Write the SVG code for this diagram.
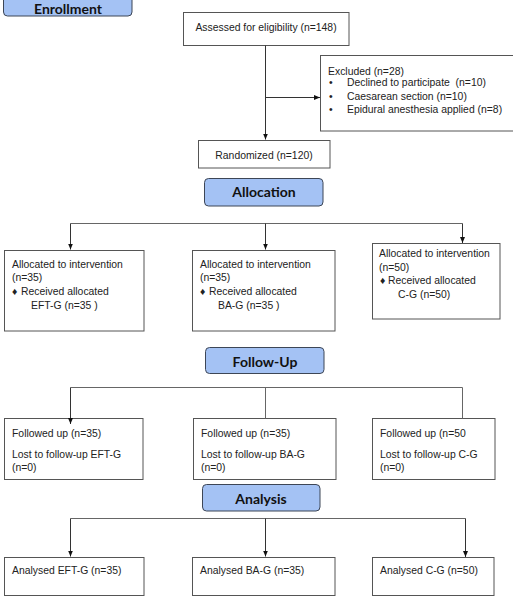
<svg xmlns="http://www.w3.org/2000/svg" width="513" height="604" viewBox="0 0 513 604">
<defs>
<marker id="arr" viewBox="0 0 6 5" refX="6" refY="2.5" markerWidth="6" markerHeight="5" markerUnits="userSpaceOnUse" orient="auto">
<path d="M0,0 L6,2.5 L0,5 Z" fill="#111"/>
</marker>
</defs>
<style>
.box{fill:#fff;stroke:#555;stroke-width:1}
.stage{fill:#a4c2f4;stroke:#3d4656;stroke-width:1}
.st{font-family:Lato,"Open Sans",sans-serif;font-weight:bold;font-size:14px;fill:#111;text-anchor:middle}
.t{font-family:"Liberation Sans",Arial,sans-serif;font-size:10.4px;fill:#222;white-space:pre}
.c{text-anchor:middle}
.ln{fill:none;stroke:#666;stroke-width:1}
.ar{fill:none;stroke:#333;stroke-width:1;marker-end:url(#arr)}
</style>
<rect width="513" height="604" fill="#fff"/>

<g id="enrollment">
<rect class="stage" x="3.5" y="-10" width="128.5" height="26" rx="4"/>
<text class="st" x="68" y="13.5" font-size="13.5">Enrollment</text>
</g>

<g id="assessed">
<rect class="box" x="183.5" y="12.5" width="165.5" height="33"/>
<text class="t c" x="266" y="31">Assessed for eligibility (n=148)</text>
</g>

<g id="excluded">
<rect class="box" x="320.5" y="55.5" width="193" height="75.5"/>
<text class="t" x="328" y="75">Excluded (n=28)</text>
<text class="t" x="329" y="86">•</text>
<text class="t" x="347" y="86" xml:space="preserve">Declined to participate  (n=10)</text>
<text class="t" x="329" y="100">•</text>
<text class="t" x="347" y="100">Caesarean section (n=10)</text>
<text class="t" x="329" y="113">•</text>
<text class="t" x="347" y="113">Epidural anesthesia applied (n=8)</text>
</g>

<g id="randomized">
<rect class="box" x="198.5" y="140.5" width="131.5" height="27.5"/>
<text class="t c" x="264" y="159">Randomized (n=120)</text>
</g>

<g id="allocation">
<rect class="stage" x="204.5" y="178.5" width="118.5" height="27.5" rx="4"/>
<text class="st" x="264" y="197">Allocation</text>
</g>

<g id="alloc-eft">
<rect class="box" x="4.5" y="250.5" width="139.5" height="80.5"/>
<text class="t" x="12" y="268">Allocated to intervention</text>
<text class="t" x="12" y="281">(n=35)</text>
<text class="t" x="12" y="295" font-size="8">♦</text>
<text class="t" x="21" y="295">Received allocated</text>
<text class="t" x="31" y="309">EFT-G (n=35 )</text>
</g>

<g id="alloc-ba">
<rect class="box" x="192.5" y="250.5" width="142.5" height="80.5"/>
<text class="t" x="200" y="268">Allocated to intervention</text>
<text class="t" x="200" y="281">(n=35)</text>
<text class="t" x="200" y="295" font-size="8">♦</text>
<text class="t" x="209" y="295">Received allocated</text>
<text class="t" x="218" y="309">BA-G (n=35 )</text>
</g>

<g id="alloc-c">
<rect class="box" x="372.5" y="243.5" width="127.5" height="75.5"/>
<text class="t" x="379" y="257">Allocated to intervention</text>
<text class="t" x="379" y="271">(n=50)</text>
<text class="t" x="380" y="284" font-size="8">♦</text>
<text class="t" x="388" y="284">Received allocated</text>
<text class="t" x="398" y="298">C-G (n=50)</text>
</g>

<g id="followup">
<rect class="stage" x="205.5" y="347.5" width="118.5" height="26" rx="4"/>
<text class="st" x="265" y="367">Follow-Up</text>
</g>

<g id="fu-eft">
<rect class="box" x="4.5" y="418.5" width="138.5" height="61"/>
<text class="t" x="12" y="437">Followed up (n=35)</text>
<text class="t" x="12" y="458">Lost to follow-up EFT-G</text>
<text class="t" x="12" y="471">(n=0)</text>
</g>

<g id="fu-ba">
<rect class="box" x="193.5" y="418.5" width="142.5" height="61"/>
<text class="t" x="201" y="437">Followed up (n=35)</text>
<text class="t" x="201" y="458">Lost to follow-up BA-G</text>
<text class="t" x="201" y="471">(n=0)</text>
</g>

<g id="fu-c">
<rect class="box" x="372.5" y="418.5" width="122.5" height="61"/>
<text class="t" x="380" y="437">Followed up (n=50</text>
<text class="t" x="380" y="458">Lost to follow-up C-G</text>
<text class="t" x="380" y="471">(n=0)</text>
</g>

<g id="analysis">
<rect class="stage" x="202.5" y="484.5" width="117.5" height="26.5" rx="4"/>
<text class="st" x="261" y="504">Analysis</text>
</g>

<g id="an-eft">
<rect class="box" x="4.5" y="557.5" width="139.5" height="38"/>
<text class="t" x="12" y="574">Analysed EFT-G (n=35)</text>
</g>

<g id="an-ba">
<rect class="box" x="192.5" y="557.5" width="142.5" height="38"/>
<text class="t" x="200" y="574">Analysed BA-G (n=35)</text>
</g>

<g id="an-c">
<rect class="box" x="372.5" y="557.5" width="121.5" height="38"/>
<text class="t" x="380" y="574">Analysed C-G (n=50)</text>
</g>

<g id="connectors">
<path class="ar" d="M265.5,45.5 V139.5"/>
<path class="ar" d="M265.5,97.5 H320"/>
<path class="ln" d="M70.5,223.5 H462.5"/>
<path class="ar" d="M70.5,223.5 V249.5"/>
<path class="ar" d="M265.5,223.5 V249.5"/>
<path class="ar" d="M462.5,223.5 V243"/>
<path class="ln" d="M70.5,387.5 H462.5"/>
<path class="ar" d="M70.5,387.5 V424"/>
<path class="ln" d="M265.5,387.5 V418.5"/>
<path class="ln" d="M462.5,387.5 V418.5"/>
<path class="ln" d="M70.5,518.5 H465.5"/>
<path class="ar" d="M70.5,518.5 V556.5"/>
<path class="ar" d="M265.5,518.5 V556.5"/>
<path class="ar" d="M465.5,518.5 V557"/>
</g>
</svg>
